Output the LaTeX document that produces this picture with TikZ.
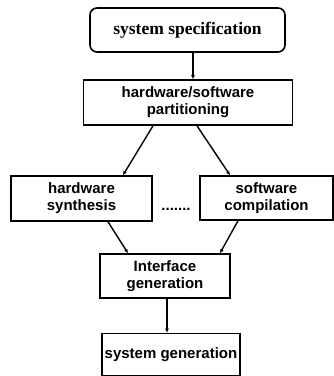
\documentclass[tikz,border=0pt]{standalone}
\usepackage{fontspec}
\setmainfont{Liberation Sans}
\newfontfamily\serifbf{Liberation Serif}
\usetikzlibrary{arrows.meta}
\tikzset{
  box/.style={draw, line width=1.6pt, inner sep=0pt, align=center,
    font=\fontsize{15}{17}\selectfont\bfseries},
  conn/.style={line width=1.4pt, -{Latex[length=4pt,width=4pt]}},
}
\begin{document}
\begin{tikzpicture}[x=1pt,y=-1pt]
\useasboundingbox (0,0) rectangle (334,376);
\node[box, rounded corners=7pt, minimum width=195pt, minimum height=44pt,
  font=\fontsize{17.5}{19}\selectfont\serifbf\bfseries] (spec) at (187.5,30) {system specification};
\node[box, minimum width=209pt, minimum height=45pt] (part) at (188,102.5) {hardware/software\\partitioning};
\node[box, minimum width=141pt, minimum height=45pt] (hw) at (81.5,198.5) {hardware\\synthesis};
\node[box, minimum width=133pt, minimum height=44pt] (sw) at (266.5,198) {software\\compilation};
\node[font=\fontsize{15}{17}\selectfont\bfseries] (dots) at (176,209) {.......};
\node[box, minimum width=130pt, minimum height=44pt] (intf) at (165,276) {Interface\\generation};
\node[box, minimum width=138pt, minimum height=42pt] (sysgen) at (171,354.5) {system generation};
\draw[conn] ([xshift=5.5pt]spec.south) -- ([xshift=5pt]part.north);
\draw[conn] ([xshift=-35pt]part.south) -- ([xshift=41.5pt]hw.north);
\draw[conn] ([xshift=9pt]part.south) -- ([xshift=-36.5pt]sw.north);
\draw[conn] ([xshift=26.5pt]hw.south) -- ([xshift=-37pt]intf.north);
\draw[conn] ([xshift=-28.5pt]sw.south) -- ([xshift=55pt]intf.north);
\draw[conn] ([xshift=2pt]intf.south) -- ([xshift=-4pt]sysgen.north);
\end{tikzpicture}
\end{document}
